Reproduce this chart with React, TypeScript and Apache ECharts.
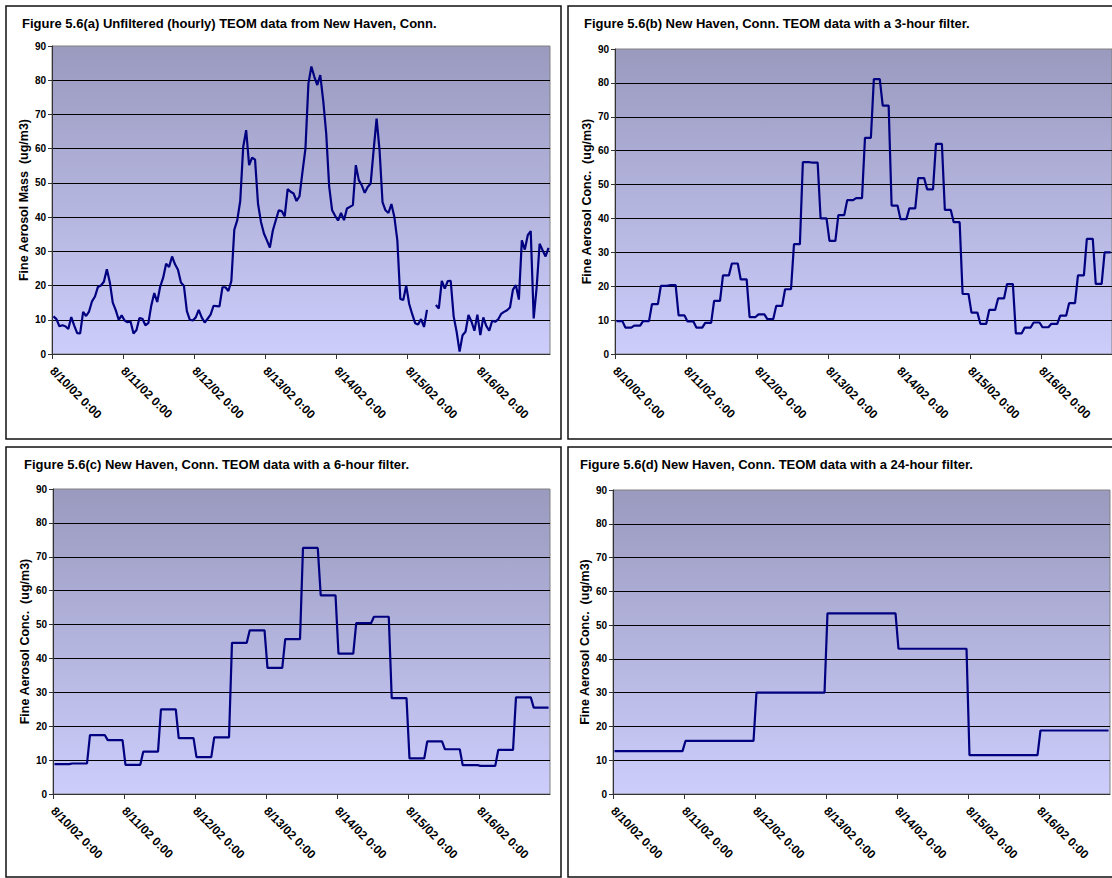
import React, { useEffect, useRef } from "react";
import * as echarts from "echarts";

// Tick labels (one per day, 8/10 .. 8/16; axis ends at 8/17 0:00)
const dayLabels = [
  "8/10/02 0:00",
  "8/11/02 0:00",
  "8/12/02 0:00",
  "8/13/02 0:00",
  "8/14/02 0:00",
  "8/15/02 0:00",
  "8/16/02 0:00",
];

// (a) unfiltered hourly TEOM fine aerosol mass (ug/m3), 168 hours, null = missing
const hourlyMass: (number | null)[] = [
  11.0, 10.2, 8.1, 8.4, 8.1, 7.3, 10.8, 8.3, 6.1, 6.0, 12.3, 11.1,
  12.4, 15.4, 16.8, 19.6, 20.0, 21.1, 24.8, 21.0, 15.0, 12.8, 10.0, 11.3,
  9.8, 9.3, 9.5, 6.0, 7.0, 10.5, 10.3, 8.4, 9.0, 14.2, 17.8, 15.2,
  19.7, 22.3, 26.4, 25.4, 28.5, 26.2, 24.6, 20.9, 19.9, 12.5, 10.0, 9.8,
  10.7, 12.9, 10.7, 9.2, 10.3, 11.5, 14.1, 14.0, 13.9, 19.5, 19.5, 18.4,
  21.3, 36.3, 39.1, 44.7, 60.5, 65.4, 55.2, 57.4, 56.8, 43.9, 38.6, 35.2,
  33.2, 31.1, 36.1, 39.1, 42.0, 41.8, 40.2, 48.2, 47.4, 46.9, 44.7, 46.1,
  53.2, 60.0, 79.0, 84.0, 81.0, 78.6, 81.5, 74.0, 64.5, 49.0, 42.0, 40.4,
  39.0, 41.2, 39.1, 42.5, 43.0, 43.5, 55.2, 50.8, 49.3, 47.1, 48.8, 49.8,
  59.6, 68.8, 59.6, 44.4, 42.0, 41.2, 43.8, 40.0, 33.2, 16.1, 15.8, 20.0,
  14.6, 11.7, 9.0, 8.6, 10.2, 7.9, 12.9, null, null, 14.3, 13.3, 21.4,
  19.1, 21.3, 21.4, 11.0, 6.5, 0.7, 5.5, 6.5, 11.4, 9.5, 6.8, 11.5,
  5.5, 10.7, 8.2, 6.8, 9.7, 9.4, 10.1, 11.7, 12.3, 12.8, 13.6, 18.8,
  20.1, 15.9, 33.2, 30.5, 34.7, 35.9, 10.4, 19.5, 32.2, 30.3, 28.5, 31.0,
];

// (b) 3-hour block averages (56 blocks)
const filter3h = [
  9.7, 7.8, 8.4, 9.7, 14.7, 20.1, 20.3, 11.4,
  9.6, 7.8, 9.2, 15.7, 23.2, 26.7, 22.0, 10.9,
  11.7, 10.3, 14.2, 19.1, 32.4, 56.6, 56.5, 40.0,
  33.4, 41.0, 45.4, 46.0, 63.8, 81.1, 73.3, 43.8,
  39.8, 43.0, 51.9, 48.6, 62.0, 42.5, 38.9, 17.7,
  12.2, 8.9, 13.0, 16.4, 20.6, 6.1, 7.8, 9.3,
  7.9, 8.9, 11.3, 15.0, 23.2, 34.0, 20.7, 30.0,
];

// (c) 6-hour block averages (28 blocks)
const filter6h = [
  8.8, 9.0, 17.4, 15.9,
  8.6, 12.5, 25.0, 16.5,
  10.9, 16.7, 44.6, 48.3,
  37.2, 45.7, 72.6, 58.6,
  41.4, 50.4, 52.3, 28.3,
  10.5, 15.5, 13.2, 8.5,
  8.3, 13.0, 28.5, 25.5,
];

// (d) 24-hour block averages (7 blocks)
const filter24h = [12.7, 15.7, 30.0, 53.5, 43.0, 11.5, 18.8];

const titles = [
  "Figure 5.6(a) Unfiltered (hourly) TEOM data from New Haven, Conn.",
  "Figure 5.6(b) New Haven, Conn. TEOM data with a 3-hour filter.",
  "Figure 5.6(c) New Haven, Conn. TEOM data with a 6-hour filter.",
  "Figure 5.6(d) New Haven, Conn. TEOM data with a 24-hour filter.",
];

const yNames = [
  "Fine Aerosol Mass  (ug/m3)",
  "Fine Aerosol Conc.  (ug/m3)",
  "Fine Aerosol Conc.  (ug/m3)",
  "Fine Aerosol Conc.  (ug/m3)",
];

const FONT = "'Liberation Sans', Arial, Helvetica, sans-serif";

function hourlyPoints(vals: (number | null)[]) {
  return vals.map((v, i) => [i + 0.5, v == null ? "-" : v]);
}

function blockPoints(vals: number[], n: number) {
  const out: any[] = [];
  vals.forEach((v, k) => {
    out.push([k * n + 0.5, v]);
    out.push([k * n + n - 0.5, v]);
  });
  return out;
}

export default function App() {
  const ref = useRef<HTMLDivElement>(null);

  useEffect(() => {
    if (!ref.current) return;
    const chart = echarts.init(ref.current, null, { renderer: "svg" });

    const grids = [
      { left: 52, top: 46, width: 498, height: 308 },
      { left: 615, top: 49, width: 497, height: 305 },
      { left: 53, top: 489, width: 497, height: 305 },
      { left: 613, top: 490, width: 497, height: 304 },
    ];
    const titlePos = [
      { left: 22, top: 17 },
      { left: 584, top: 17 },
      { left: 24, top: 458 },
      { left: 580, top: 458 },
    ];
    const frames = [
      { x: 6, y: 6, width: 555, height: 433 },
      { x: 568, y: 6, width: 560, height: 433 },
      { x: 6, y: 447, width: 555, height: 430 },
      { x: 568, y: 447, width: 560, height: 430 },
    ];

    const seriesData = [
      hourlyPoints(hourlyMass),
      blockPoints(filter3h, 3),
      blockPoints(filter6h, 6),
      blockPoints(filter24h, 24),
    ];

    const bg = {
      type: "linear",
      x: 0,
      y: 0,
      x2: 0,
      y2: 1,
      colorStops: [
        { offset: 0, color: "#9a9abf" },
        { offset: 1, color: "#cccdfb" },
      ],
    };

    const option: any = {
      animation: false,
      backgroundColor: "#ffffff",
      title: titles.map((t, i) => ({
        text: t,
        left: titlePos[i].left,
        top: titlePos[i].top,
        padding: 0,
        textStyle: {
          fontSize: 13,
          fontWeight: "bold",
          fontFamily: FONT,
          color: "#000",
        },
      })),
      grid: grids.map((g) => ({
        ...g,
        show: true,
        backgroundColor: bg,
        borderColor: "#808080",
        borderWidth: 1,
      })),
      xAxis: grids.map((_, i) => ({
        type: "value",
        gridIndex: i,
        min: 0,
        max: 168,
        interval: 24,
        axisLine: { show: true, onZero: false, lineStyle: { color: "#333", width: 1 } },
        axisTick: { show: true, length: 5, lineStyle: { color: "#333" } },
        splitLine: { show: false },
        axisLabel: {
          rotate: -45,
          margin: 15,
          fontSize: 12,
          fontWeight: "bold",
          fontFamily: FONT,
          color: "#000",
          showMaxLabel: false,
          formatter: (v: number) => dayLabels[Math.round(v / 24)] ?? "",
        },
      })),
      yAxis: grids.map((_, i) => ({
        type: "value",
        gridIndex: i,
        min: 0,
        max: 90,
        interval: 10,
        name: yNames[i],
        nameLocation: "middle",
        nameGap: 22,
        nameTextStyle: {
          fontSize: 12.5,
          fontWeight: "bold",
          fontFamily: FONT,
          color: "#000",
        },
        axisLine: { show: true, lineStyle: { color: "#333", width: 1 } },
        axisTick: { show: true, length: 4, lineStyle: { color: "#333" } },
        axisLabel: {
          margin: 6,
          fontSize: 10,
          fontWeight: "bold",
          fontFamily: FONT,
          color: "#000",
        },
        splitLine: {
          show: true,
          showMinLine: false,
          showMaxLine: false,
          lineStyle: { color: "#000", width: 1 },
        },
      })),
      series: seriesData.map((d, i) => ({
        type: "line",
        xAxisIndex: i,
        yAxisIndex: i,
        data: d,
        symbol: "none",
        showSymbol: false,
        connectNulls: false,
        clip: true,
        lineStyle: { color: "#000080", width: 2.2 },
        z: 5,
      })),
      graphic: frames.map((f) => ({
        type: "rect",
        shape: f,
        silent: true,
        style: { fill: "none", stroke: "#111", lineWidth: 1.5 },
      })),
    };

    chart.setOption(option);
    return () => chart.dispose();
  }, []);

  return (
    <div
      ref={ref}
      style={{ position: "fixed", left: 0, top: 0, width: 1112, height: 878 }}
    />
  );
}
